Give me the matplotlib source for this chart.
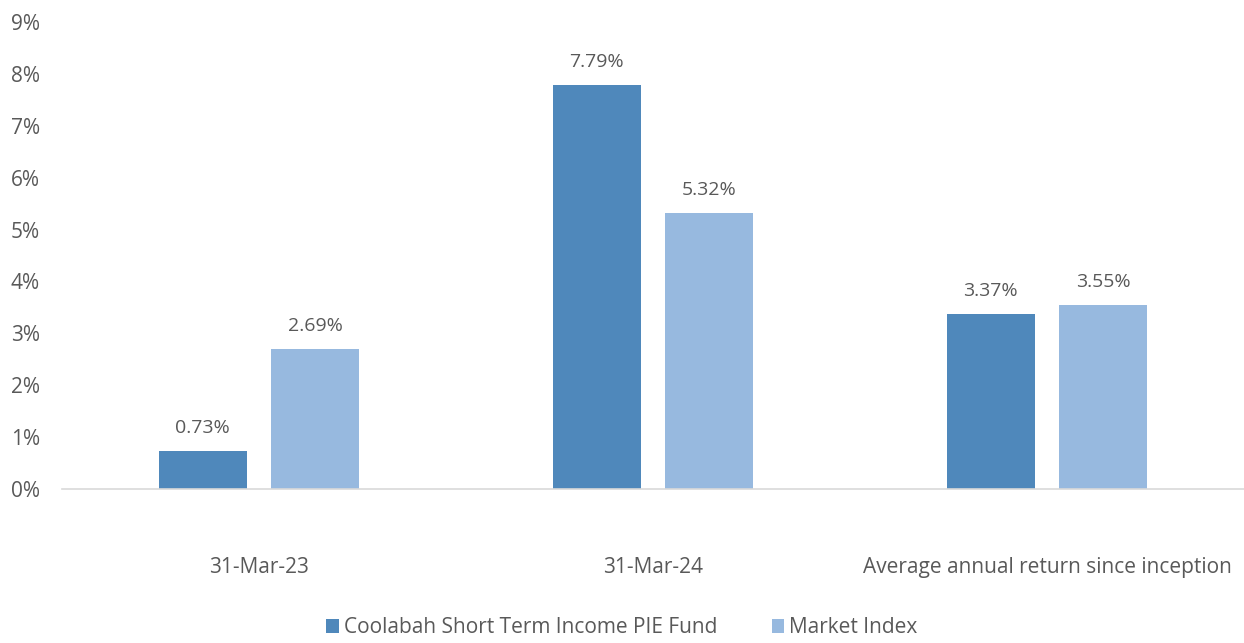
import numpy as np
import matplotlib
matplotlib.use("Agg")
import matplotlib.pyplot as plt
from matplotlib.ticker import FuncFormatter

plt.rcParams['font.family'] = ['Open Sans', 'DejaVu Sans']

# data
categories = ["31-Mar-23", "31-Mar-24", "Average annual return since inception"]
fund = [0.73, 7.79, 3.37]
index = [2.69, 5.32, 3.55]
series_names = ["Coolabah Short Term Income PIE Fund", "Market Index"]

DARK = "#4F88BB"
LIGHT = "#97B9DF"
TXT = "#595959"

fig = plt.figure(figsize=(12.44, 6.43), dpi=100)
ax = fig.add_axes([62 / 1244, 154 / 643, 1182 / 1244, 467 / 643])

x = np.arange(len(categories))
w = 0.223
off = (w + 0.063) / 2
b1 = ax.bar(x - off, fund, w, color=DARK, label=series_names[0])
b2 = ax.bar(x + off, index, w, color=LIGHT, label=series_names[1])

for bars, vals in ((b1, fund), (b2, index)):
    for r, v in zip(bars, vals):
        ax.text(r.get_x() + r.get_width() / 2, v + 0.27, f"{v:.2f}%",
                ha="center", va="bottom", fontsize=14, color=TXT)

ax.set_xlim(-0.5, 2.5)
ax.set_ylim(0, 9)
ax.set_yticks(range(0, 10))
ax.yaxis.set_major_formatter(FuncFormatter(lambda v, p: f"{int(v)}%"))
ax.set_xticks(x)
ax.set_xticklabels(categories)

for s in ("top", "right", "left"):
    ax.spines[s].set_visible(False)
ax.spines["bottom"].set_color("#D9D9D9")
ax.spines["bottom"].set_linewidth(1.2)
ax.tick_params(axis="y", length=0, labelsize=15, colors=TXT, pad=16)
ax.tick_params(axis="x", length=0, labelsize=15, colors=TXT, pad=49)

fig.legend(handles=[b1, b2], loc="lower center", bbox_to_anchor=(0.5, -0.022),
           ncol=2, frameon=False, fontsize=15, labelcolor=TXT,
           handlelength=0.6, handleheight=0.6, handletextpad=0.25, columnspacing=2.6)

fig.savefig("out.png", dpi=100)
